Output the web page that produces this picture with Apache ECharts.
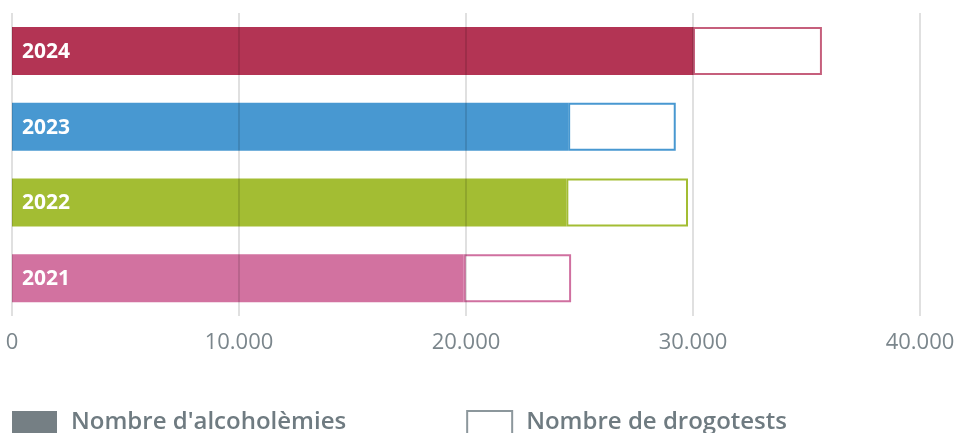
<!DOCTYPE html>
<html>
	<head>
		<meta charset="utf-8" />
		<title></title>
		<script src="https://cdn.jsdelivr.net/npm/echarts@6/dist/echarts.min.js"></script>
		<style>
			html, body { margin: 0; padding: 0; background: #fff; }
			#chart { width: 965px; height: 433px; }
		</style>
	</head>
	<body>
		<div id="chart"></div>
		<script>
			// categories, bottom to top
			var years = ['2021', '2022', '2023', '2024'];
			var alcoholemies = [19900, 24420, 24500, 30000];
			var drogotests = [4730, 5360, 4740, 5680];
			var yearColors = ['#d272a0', '#a3bd33', '#4898d1', '#b33454'];
			var borderColors = ['#d070a0', '#a3bd33', '#4898d1', '#c65f7c'];
			var xTicks = [0, 10000, 20000, 30000, 40000];

			var font = '"Open Sans", "DejaVu Sans", sans-serif';

			function fmt(v) {
				return String(v).replace(/\B(?=(\d{3})+(?!\d))/g, '.');
			}

			var chart = echarts.init(document.getElementById('chart'));
			var option = {
				animation: false,
				grid: { left: 12, right: 45, top: 13, bottom: 117 },
				legend: {
					left: 12,
					top: 410,
					padding: 0,
					itemWidth: 45,
					itemHeight: 23,
					itemGap: 120,
					textStyle: { fontFamily: font, fontSize: 24, fontWeight: 600, color: '#6f7b81', padding: [2, 0, 0, 9] },
					data: [
						{ name: "Nombre d'alcoholèmies", icon: 'rect', itemStyle: { color: '#757f84', borderWidth: 0 } },
						{ name: 'Nombre de drogotests', icon: 'rect', itemStyle: { color: '#fff', borderColor: '#8c979c', borderWidth: 2 } }
					]
				},
				xAxis: {
					type: 'value',
					z: 5,
					min: xTicks[0],
					max: xTicks[xTicks.length - 1],
					interval: 10000,
					axisLine: { show: false },
					axisTick: { show: false },
					splitLine: { show: true, lineStyle: { color: 'rgba(0,0,0,0.12)', width: 2 } },
					axisLabel: {
						margin: 16,
						fontFamily: font,
						fontSize: 22,
						color: '#7b868c',
						formatter: function (v) { return fmt(v); }
					}
				},
				yAxis: {
					type: 'category',
					data: years,
					axisLine: { show: false },
					axisTick: { show: false },
					axisLabel: { show: false }
				},
				series: [
					{
						name: "Nombre d'alcoholèmies",
						type: 'bar',
						stack: 'total',
						barWidth: 48,
						data: alcoholemies.map(function (v, i) {
							return { value: v, itemStyle: { color: yearColors[i] } };
						}),
						label: {
							show: true,
							position: 'insideLeft',
							distance: 10,
							offset: [0, 1],
							formatter: '{b}',
							fontFamily: font,
							fontSize: 21,
							fontWeight: 'bold',
							color: '#fff'
						}
					},
					{
						name: 'Nombre de drogotests',
						type: 'bar',
						stack: 'total',
						barWidth: 48,
						data: drogotests.map(function (v, i) {
							return { value: v, itemStyle: { color: '#fff', borderColor: borderColors[i], borderWidth: 2 } };
						})
					}
				]
			};
			chart.setOption(option);
		</script>
	</body>
</html>
